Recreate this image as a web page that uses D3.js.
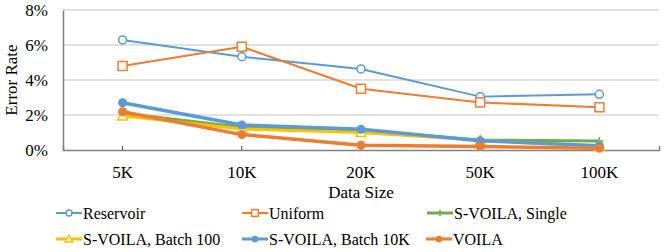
<!DOCTYPE html>
<html>
<head>
<meta charset="utf-8">
<script src="https://cdn.jsdelivr.net/npm/d3@7"></script>
<style>
  body { margin: 0; background: #fff; }
  svg { display: block; }
  svg text { font-family: "Times New Roman", "Liberation Serif", Tinos, "DejaVu Serif", serif !important; }
</style>
</head>
<body>
<svg width="665" height="252"></svg>
<script>
const categories = ["5K", "10K", "20K", "50K", "100K"];
const yTicks = [0, 2, 4, 6, 8];

const reservoir = [6.29, 5.33, 4.63, 3.05, 3.18];
const uniform = [4.8, 5.9, 3.5, 2.72, 2.44];
const sSingle = [2.1, 1.3, 1.1, 0.57, 0.51];
const sBatch100 = [1.95, 1.2, 1.0, 0.55, 0.2];
const sBatch10K = [2.7, 1.43, 1.18, 0.53, 0.25];
const voila = [2.19, 0.88, 0.27, 0.2, 0.1];

const series = [
  { name: "Reservoir", values: reservoir, color: "#5B9BD5", marker: "circleOpen", width: 2 },
  { name: "Uniform", values: uniform, color: "#ED7D31", marker: "square", width: 2 },
  { name: "S-VOILA, Single", values: sSingle, color: "#70AD47", marker: "plus", width: 3 },
  { name: "S-VOILA, Batch 100", values: sBatch100, color: "#FFC000", marker: "triangle", width: 3 },
  { name: "S-VOILA, Batch 10K", values: sBatch10K, color: "#5B9BD5", marker: "circleFilled", width: 3.5 },
  { name: "VOILA", values: voila, color: "#ED7D31", marker: "circleFilled", width: 3.5 }
];

const svg = d3.select("svg");
const plotLeft = 63, plotRight = 659, plotTop = 10, plotBottom = 150;
const axisFont = 17, legendFont = 16;

const x = d3.scaleBand().domain(categories).range([plotLeft, plotRight]);
const y = d3.scaleLinear().domain([0, 8]).range([plotBottom, plotTop]);

// gridlines
svg.append("g")
  .selectAll("line")
  .data(yTicks.filter(d => d > 0))
  .join("line")
  .attr("x1", plotLeft).attr("x2", plotRight)
  .attr("y1", d => y(d)).attr("y2", d => y(d))
  .attr("stroke", "#d9d9d9").attr("stroke-width", 1.5);

// y axis
const yAxis = d3.axisLeft(y).tickValues(yTicks).tickSize(0).tickPadding(15)
  .tickFormat(d => d + "%");
const gy = svg.append("g").attr("transform", `translate(${plotLeft},0)`).call(yAxis);
gy.select(".domain").attr("stroke", "#808080").attr("stroke-width", 1.5);
gy.selectAll("text").attr("font-size", axisFont).attr("fill", "#000");

// x axis, ticks point inward
const xAxis = d3.axisBottom(x).tickSize(-4).tickSizeOuter(-4).tickPadding(16);
const gx = svg.append("g").attr("transform", `translate(0,${plotBottom})`).call(xAxis);
gx.select(".domain").attr("stroke", "#808080").attr("stroke-width", 1.5);
gx.selectAll(".tick line").attr("stroke", "#404040");
gx.selectAll("text").attr("font-size", axisFont).attr("fill", "#000");

// titles
svg.append("text")
  .attr("transform", "translate(17,80) rotate(-90)")
  .attr("text-anchor", "middle")
  .attr("font-size", axisFont)
  .text("Error Rate");
svg.append("text")
  .attr("x", (plotLeft + plotRight) / 2).attr("y", 198)
  .attr("text-anchor", "middle")
  .attr("font-size", axisFont)
  .text("Data Size");

const line = d3.line()
  .x((d, i) => x(categories[i]) + x.bandwidth() / 2)
  .y(d => y(d));

function drawMarker(g, type, color, cx, cy, k) {
  if (type === "circleOpen") {
    g.append("circle").attr("cx", cx).attr("cy", cy).attr("r", 4 * k)
      .attr("fill", "#fff").attr("stroke", color).attr("stroke-width", 1.5);
  } else if (type === "square") {
    g.append("rect").attr("x", cx - 4.5 * k).attr("y", cy - 4.5 * k)
      .attr("width", 9 * k).attr("height", 9 * k)
      .attr("fill", "#fff").attr("stroke", color).attr("stroke-width", 1.5);
  } else if (type === "plus") {
    g.append("path").attr("d", `M${cx - 4 * k},${cy}H${cx + 4 * k}M${cx},${cy - 4 * k}V${cy + 4 * k}`)
      .attr("stroke", color).attr("stroke-width", 1.5);
  } else if (type === "triangle") {
    g.append("path").attr("d", `M${cx},${cy - 5 * k}L${cx + 5 * k},${cy + 4 * k}L${cx - 5 * k},${cy + 4 * k}Z`)
      .attr("fill", "#fff").attr("stroke", color).attr("stroke-width", 1.5);
  } else if (type === "circleFilled") {
    g.append("circle").attr("cx", cx).attr("cy", cy).attr("r", 4.5 * k)
      .attr("fill", color);
  }
}

// series lines
series.forEach(s => {
  const g = svg.append("g");
  g.append("path")
    .attr("d", line(s.values))
    .attr("fill", "none")
    .attr("stroke", s.color)
    .attr("stroke-width", s.width)
    .attr("stroke-linejoin", "round");
  s.values.forEach((v, i) => {
    drawMarker(g, s.marker, s.color, x(categories[i]) + x.bandwidth() / 2, y(v), 1);
  });
});

// legend
const legendPos = [
  [56, 213], [242, 213], [427, 213],
  [56, 239], [242, 239], [426, 239]
];
series.forEach((s, i) => {
  const [lx, ly] = legendPos[i];
  const g = svg.append("g");
  g.append("line").attr("x1", lx).attr("x2", lx + 26).attr("y1", ly).attr("y2", ly)
    .attr("stroke", s.color).attr("stroke-width", s.width > 2 ? 3 : 2);
  drawMarker(g, s.marker, s.color, lx + 13, ly, 0.75);
  g.append("text").attr("x", lx + 27).attr("y", ly + 6)
    .attr("font-size", legendFont).text(s.name);
});
</script>
</body>
</html>
